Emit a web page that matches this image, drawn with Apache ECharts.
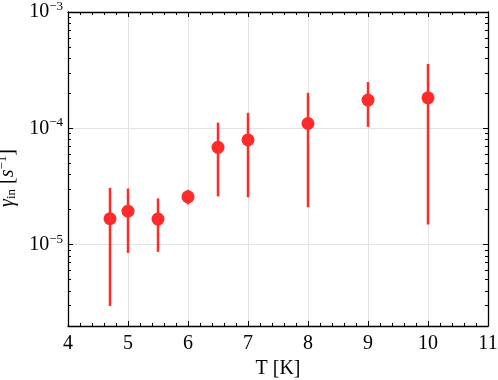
<!DOCTYPE html>
<html>
<head>
<meta charset="utf-8">
<script src="https://cdn.jsdelivr.net/npm/echarts@6/dist/echarts.min.js"></script>
<style>
html, body { margin: 0; padding: 0; background: #fff; }
#chart { width: 498px; height: 380px; }
</style>
</head>
<body>
<div id="chart"></div>
<script>
// temperatures [K] and rates [s^-1]
var temps     = [4.7, 5, 5.5, 6, 6.5, 7, 8, 9, 10];
var gamma     = [1.67e-5, 1.94e-5, 1.66e-5, 2.58e-5, 6.87e-5, 7.95e-5, 1.10e-4, 1.75e-4, 1.83e-4];
var gammaLow  = [2.97e-6, 8.5e-6, 8.67e-6, 2.22e-5, 2.6e-5, 2.56e-5, 2.1e-5, 1.03e-4, 1.49e-5];
var gammaHigh = [3.08e-5, 3.04e-5, 2.5e-5, 2.96e-5, 1.12e-4, 1.36e-4, 2.02e-4, 2.5e-4, 3.58e-4];

var red = '#ff2a2a';
var font = '"Liberation Serif", "Times New Roman", serif';

var pts = temps.map(function (t, i) { return [t, gamma[i]]; });
var bars = temps.map(function (t, i) { return [t, gammaLow[i], gammaHigh[i]]; });

function powLabel(v) {
  var e = Math.round(Math.log10(v));
  return '10{sup|\u2212' + Math.abs(e) + '}';
}

var chart = echarts.init(document.getElementById('chart'));
chart.setOption({
  animation: false,
  grid: { left: 68, right: 10, top: 12, bottom: 54, containLabel: false, outerBoundsMode: 'none' },
  xAxis: [{
    type: 'value', min: 4, max: 11, interval: 1,
    name: 'T [K]', nameLocation: 'middle', nameGap: 32,
    nameTextStyle: { fontFamily: font, fontSize: 20, color: '#000' },
    axisLine: { onZero: false, lineStyle: { color: '#000', width: 1.3 } },
    axisTick: { inside: true, length: 5, lineStyle: { color: '#000' } },
    minorTick: { show: true, splitNumber: 5, length: 3, lineStyle: { color: '#000' } },
    axisLabel: { fontFamily: font, fontSize: 20, color: '#000', margin: 8 },
    splitLine: { show: true, lineStyle: { color: '#e3e3e3', width: 1 } }
  }, {
    type: 'value', min: 4, max: 11, interval: 1, position: 'top',
    axisLine: { onZero: false, lineStyle: { color: '#000', width: 1.3 } },
    axisTick: { inside: true, length: 5, lineStyle: { color: '#000' } },
    minorTick: { show: true, splitNumber: 5, length: 3, lineStyle: { color: '#000' } },
    axisLabel: { show: false },
    splitLine: { show: false }
  }],
  yAxis: [{
    type: 'log', logBase: 10, min: 2e-6, max: 1e-3,
    name: '{it|\u03b3}{sub|in} [{it|s}{sup|\u22121}]', nameLocation: 'middle', nameGap: 43,
    nameTextStyle: {
      fontFamily: font, fontSize: 20, color: '#000',
      padding: [0, 18, 0, 0],
      rich: {
        it: { fontFamily: font, fontStyle: 'italic', fontSize: 20 },
        sub: { fontFamily: font, fontSize: 13, verticalAlign: 'bottom', padding: [9, 0, 0, 0] },
        sup: { fontFamily: font, fontSize: 13, verticalAlign: 'top', padding: [0, 0, 9, 0] }
      }
    },
    axisLine: { onZero: false, lineStyle: { color: '#000', width: 1.3 } },
    axisTick: { inside: true, length: 5, lineStyle: { color: '#000' } },
    minorTick: { show: true, splitNumber: 9, length: 3, lineStyle: { color: '#000' } },
    axisLabel: {
      fontFamily: font, fontSize: 20, color: '#000', margin: 5,
      showMinLabel: false,
      formatter: powLabel,
      rich: { sup: { fontFamily: font, fontSize: 13, verticalAlign: 'top', padding: [0, 0, 11, 0] } }
    },
    splitLine: { show: true, lineStyle: { color: '#e3e3e3', width: 1 } }
  }, {
    type: 'log', logBase: 10, min: 2e-6, max: 1e-3, position: 'right',
    axisLine: { onZero: false, lineStyle: { color: '#000', width: 1.3 } },
    axisTick: { inside: true, length: 5, lineStyle: { color: '#000' } },
    minorTick: { show: true, splitNumber: 9, length: 3, lineStyle: { color: '#000' } },
    axisLabel: { show: false },
    splitLine: { show: false }
  }],
  series: [{
    type: 'custom',
    data: bars,
    z: 2,
    renderItem: function (params, api) {
      var lo = api.coord([api.value(0), api.value(1)]);
      var hi = api.coord([api.value(0), api.value(2)]);
      return {
        type: 'line',
        shape: { x1: lo[0], y1: lo[1], x2: hi[0], y2: hi[1] },
        style: { stroke: red, lineWidth: 2.5 }
      };
    }
  }, {
    type: 'scatter',
    data: pts,
    symbol: 'circle',
    symbolSize: 13,
    z: 3,
    itemStyle: { color: red, opacity: 1 }
  }]
});
</script>
</body>
</html>
